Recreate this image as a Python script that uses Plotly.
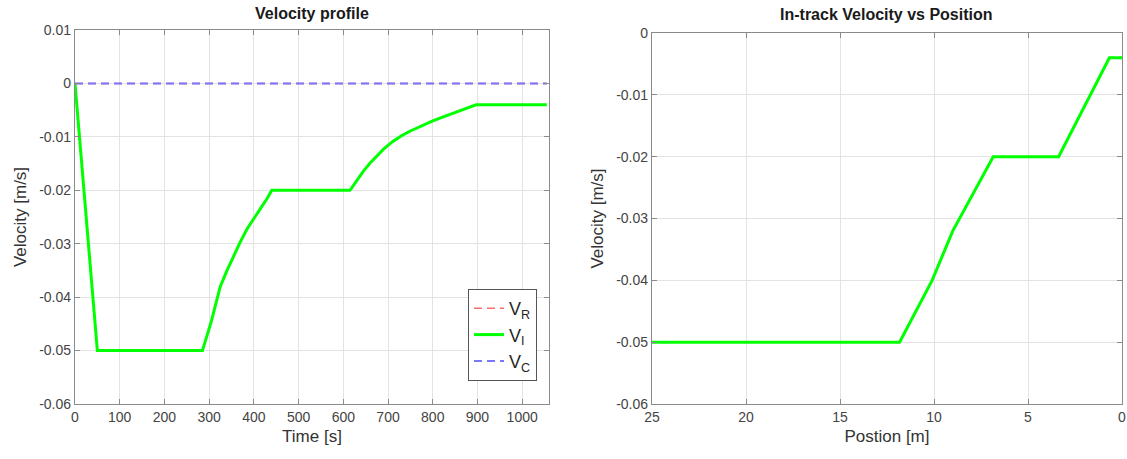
import plotly.graph_objects as go

# ---------------- data ----------------
# Left: velocity profile vs time
time_vi = [0, 50, 285, 295, 305, 315, 325, 340, 355, 370, 385, 400, 415, 430, 440,
           615, 630, 645, 660, 675, 690, 710, 730, 750, 775, 800, 825, 850, 875, 897, 1055]
vel_vi = [0, -0.05, -0.05, -0.0472, -0.0445, -0.0412, -0.0380, -0.0350, -0.0322, -0.0296,
          -0.0272, -0.0252, -0.0234, -0.0215, -0.0200,
          -0.0200, -0.0181, -0.0164, -0.0149, -0.0135, -0.0123, -0.0109, -0.0098, -0.0089,
          -0.0079, -0.0070, -0.0062, -0.0054, -0.0047, -0.0040, -0.0040]
time_ref = [0, 1055]
vel_r = [0, 0]
vel_c = [0, 0]

# Right: in-track velocity vs position
position = [25, 11.83, 10.1, 9.0, 6.85, 3.37, 0.67, 0]
vel_pos = [-0.05, -0.05, -0.040, -0.032, -0.020, -0.020, -0.004, -0.004]

left_xticks = [0, 100, 200, 300, 400, 500, 600, 700, 800, 900, 1000]
left_xticklabels = ["0", "100", "200", "300", "400", "500", "600", "700", "800", "900", "1000"]
left_yticks = [0.01, 0, -0.01, -0.02, -0.03, -0.04, -0.05, -0.06]
left_yticklabels = ["0.01", "0", "-0.01", "-0.02", "-0.03", "-0.04", "-0.05", "-0.06"]
right_xticks = [25, 20, 15, 10, 5, 0]
right_xticklabels = ["25", "20", "15", "10", "5", "0"]
right_yticks = [0, -0.01, -0.02, -0.03, -0.04, -0.05, -0.06]
right_yticklabels = ["0", "-0.01", "-0.02", "-0.03", "-0.04", "-0.05", "-0.06"]

# ---------------- figure ----------------
W, H = 1127, 459
FONT = "Liberation Sans, Arial, sans-serif"
GREEN = "rgb(0,255,0)"

fig = go.Figure()
fig.add_trace(go.Scatter(x=time_ref, y=vel_r, mode="lines", name="V<sub>R</sub>",
                         line=dict(color="rgb(255,110,110)", width=1.4, dash="8px,5px"),
                         xaxis="x", yaxis="y"))
fig.add_trace(go.Scatter(x=time_vi, y=vel_vi, mode="lines", name="V<sub>I</sub>",
                         line=dict(color=GREEN, width=3),
                         xaxis="x", yaxis="y"))
fig.add_trace(go.Scatter(x=time_ref, y=vel_c, mode="lines", name="V<sub>C</sub>",
                         line=dict(color="rgb(120,120,255)", width=2, dash="8px,5px"),
                         xaxis="x", yaxis="y"))
fig.add_trace(go.Scatter(x=position, y=vel_pos, mode="lines", showlegend=False,
                         line=dict(color=GREEN, width=3),
                         xaxis="x2", yaxis="y2"))

axis_common = dict(
    showline=True, linecolor="#8a8a8a", linewidth=1.3, mirror="ticks",
    ticks="inside", ticklen=5, tickcolor="#8a8a8a", tickwidth=1,
    showgrid=True, gridcolor="#e3e3e3", gridwidth=1, zeroline=False,
    tickfont=dict(family=FONT, size=14, color="#444444"),
    automargin=False,
)

def px_x(p):
    return p / W

def px_y(p):
    return 1 - p / H

TITLE_FONT = dict(family=FONT, size=17, color="#333333")

fig.update_layout(
    width=W, height=H,
    margin=dict(l=0, r=0, t=0, b=0, autoexpand=False),
    paper_bgcolor="white", plot_bgcolor="white",
    font=dict(family=FONT, color="#262626"),
    xaxis=dict(domain=[px_x(75), px_x(549)], range=[0, 1060], anchor="y",
               tickmode="array", tickvals=left_xticks, ticktext=left_xticklabels,
               title=dict(text="Time [s]", font=TITLE_FONT, standoff=6),
               **axis_common),
    yaxis=dict(domain=[px_y(404), px_y(30)], range=[-0.06, 0.01], anchor="x",
               tickmode="array", tickvals=left_yticks, ticktext=left_yticklabels,
               title=dict(text="Velocity [m/s]", font=TITLE_FONT, standoff=8),
               **axis_common),
    xaxis2=dict(domain=[px_x(652), px_x(1122)], range=[25, 0], anchor="y2",
                tickmode="array", tickvals=right_xticks, ticktext=right_xticklabels,
                title=dict(text="Postion [m]", font=TITLE_FONT, standoff=6),
                **axis_common),
    yaxis2=dict(domain=[px_y(404), px_y(33)], range=[-0.06, 0], anchor="x2",
                tickmode="array", tickvals=right_yticks, ticktext=right_yticklabels,
                title=dict(text="Velocity [m/s]", font=TITLE_FONT, standoff=8),
                **axis_common),
    legend=dict(x=px_x(537), y=px_y(289), xanchor="right", yanchor="top",
                bgcolor="white", bordercolor="#555555", borderwidth=1,
                font=dict(family=FONT, size=18, color="#262626"),
                tracegroupgap=0, itemwidth=30),
    showlegend=True,
    annotations=[
        dict(text="<b>Velocity profile</b>", x=px_x(312), y=px_y(13), xref="paper", yref="paper",
             showarrow=False, xanchor="center", yanchor="middle",
             font=dict(family=FONT, size=16, color="#1a1a1a")),
        dict(text="<b>In-track Velocity vs Position</b>", x=px_x(887), y=px_y(15), xref="paper", yref="paper",
             showarrow=False, xanchor="center", yanchor="middle",
             font=dict(family=FONT, size=16, color="#1a1a1a")),
    ],
)

fig.write_html("out.html")
